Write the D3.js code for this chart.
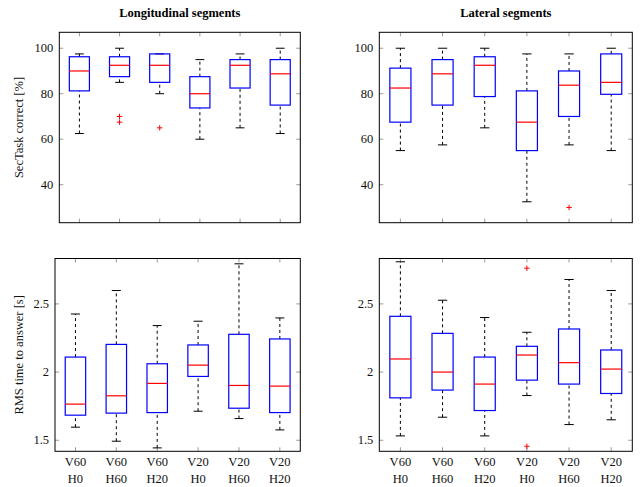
<!DOCTYPE html>
<meta charset="utf-8">
<script src="https://d3js.org/d3.v7.min.js"></script>
<style>
  body { margin: 0; background: #fff; }
</style>
<div id="chart"></div>
<script>
    // conditions on the x axis (two lines each)
    const categories = ["V60 H0", "V60 H60", "V60 H20", "V20 H0", "V20 H60", "V20 H20"];

    // box stats per condition: [low whisker, q1, median, q3, high whisker]
    const secLong = [
        [62.5, 81.25, 90, 96.25, 97.5],
        [85, 87.5, 92.5, 96.25, 100],
        [80, 85, 92.5, 97.5, 97.5],
        [60, 73.75, 80, 87.5, 95],
        [65, 82.5, 92.5, 95, 97.5],
        [62.5, 75, 88.75, 95, 100]
    ];
    const secLongOut = [[], [70, 67.5], [65], [], [], []];

    const secLat = [
        [55, 67.5, 82.5, 91.25, 100],
        [57.5, 75, 88.75, 95, 100],
        [65, 78.75, 92.5, 96.25, 100],
        [32.5, 55, 67.5, 81.25, 97.5],
        [57.5, 70, 83.75, 90, 97.5],
        [55, 79.75, 85, 97.5, 100]
    ];
    const secLatOut = [[], [], [], [], [30], []];

    const rmsLong = [
        [1.596, 1.684, 1.765, 2.110, 2.426],
        [1.493, 1.699, 1.826, 2.203, 2.598],
        [1.444, 1.703, 1.917, 2.061, 2.341],
        [1.713, 1.968, 2.051, 2.199, 2.373],
        [1.659, 1.735, 1.902, 2.277, 2.794],
        [1.576, 1.703, 1.897, 2.243, 2.397]
    ];
    const rmsLongOut = [[], [], [], [], [], []];

    const rmsLat = [
        [1.532, 1.811, 2.096, 2.409, 2.809],
        [1.669, 1.868, 2.0, 2.284, 2.527],
        [1.532, 1.718, 1.912, 2.110, 2.400],
        [1.828, 1.941, 2.125, 2.189, 2.292],
        [1.615, 1.912, 2.069, 2.316, 2.679],
        [1.650, 1.843, 2.022, 2.162, 2.598]
    ];
    const rmsLatOut = [[], [], [], [2.762, 1.456], [], []];

    const secTicks = [40, 60, 80, 100];
    const rmsTicks = [1.5, 2, 2.5];

    const W = 644, H = 487;
    const svg = d3.select("#chart").append("svg")
        .attr("width", W).attr("height", H)
        .attr("font-family", "'Liberation Serif', 'Times New Roman', serif");

    const panels = [
        {x0: 59.3, x1: 300.3, y0: 32.3, y1: 222.7, stats: secLong, out: secLongOut, dom: [23.3, 107], ticks: secTicks, fmt: d3.format("d"),
         title: "Longitudinal segments", ylabel: "SecTask correct [%]", xlabels: false},
        {x0: 379.3, x1: 632.3, y0: 32.3, y1: 222.7, stats: secLat, out: secLatOut, dom: [23.3, 107], ticks: secTicks, fmt: d3.format("d"),
         title: "Lateral segments", ylabel: null, xlabels: false},
        {x0: 55, x1: 300.3, y0: 258.5, y1: 451.3, stats: rmsLong, out: rmsLongOut, dom: [1.419, 2.833], ticks: rmsTicks, fmt: d => d === 2 ? "2" : d3.format(".1f")(d),
         title: null, ylabel: "RMS time to answer [s]", xlabels: true},
        {x0: 379.3, x1: 632.3, y0: 258.5, y1: 451.3, stats: rmsLat, out: rmsLatOut, dom: [1.419, 2.833], ticks: rmsTicks, fmt: d => d === 2 ? "2" : d3.format(".1f")(d),
         title: null, ylabel: null, xlabels: true}
    ];

    panels.forEach(function(p) {
        const g = svg.append("g");
        const x = d3.scaleLinear().domain([0.5, 6.5]).range([p.x0, p.x1]);
        const y = d3.scaleLinear().domain(p.dom).range([p.y1, p.y0]);
        const idx = d3.range(1, 7);
        const unit = x(2) - x(1);
        const bw = unit * 0.5, cw = unit * 0.22;

        // grey inner tick marks on all four sides
        const tk = g.append("g").attr("stroke", "#999").attr("stroke-width", 1);
        p.ticks.forEach(function(t) {
            tk.append("line").attr("x1", p.x0).attr("x2", p.x0 + 4).attr("y1", y(t)).attr("y2", y(t));
            tk.append("line").attr("x1", p.x1).attr("x2", p.x1 - 4).attr("y1", y(t)).attr("y2", y(t));
        });
        idx.forEach(function(i) {
            tk.append("line").attr("x1", x(i)).attr("x2", x(i)).attr("y1", p.y0).attr("y2", p.y0 + 4);
            tk.append("line").attr("x1", x(i)).attr("x2", x(i)).attr("y1", p.y1).attr("y2", p.y1 - 4);
        });

        // y tick labels
        g.selectAll(".yl").data(p.ticks).join("text")
            .attr("x", p.x0 - 6).attr("y", d => y(d) + 4)
            .attr("text-anchor", "end").attr("font-size", 12.5).attr("fill", "#111")
            .text(p.fmt);

        // boxes
        p.stats.forEach(function(s, k) {
            const cx = x(k + 1);
            const bg = g.append("g");
            // dashed whiskers
            bg.append("line").attr("x1", cx).attr("x2", cx).attr("y1", y(s[0])).attr("y2", y(s[1]))
                .attr("stroke", "#000").attr("stroke-dasharray", "3,3");
            bg.append("line").attr("x1", cx).attr("x2", cx).attr("y1", y(s[3])).attr("y2", y(s[4]))
                .attr("stroke", "#000").attr("stroke-dasharray", "3,3");
            // caps
            [s[0], s[4]].forEach(function(v) {
                bg.append("line").attr("x1", cx - cw / 2).attr("x2", cx + cw / 2).attr("y1", y(v)).attr("y2", y(v))
                    .attr("stroke", "#000").attr("stroke-width", 1);
            });
            bg.append("rect").attr("x", cx - bw / 2).attr("width", bw)
                .attr("y", y(s[3])).attr("height", y(s[1]) - y(s[3]))
                .attr("fill", "none").attr("stroke", "#0000ff").attr("stroke-width", 1.2);
            bg.append("line").attr("x1", cx - bw / 2).attr("x2", cx + bw / 2).attr("y1", y(s[2])).attr("y2", y(s[2]))
                .attr("stroke", "#ff0000").attr("stroke-width", 1.2);
            // outliers
            p.out[k].forEach(function(v) {
                bg.append("path").attr("d", `M${cx - 2.7},${y(v)}h5.4M${cx},${y(v) - 2.7}v5.4`)
                    .attr("stroke", "#ff0000").attr("stroke-width", 1);
            });
        });

        // frame
        g.append("rect").attr("x", p.x0).attr("y", p.y0)
            .attr("width", p.x1 - p.x0).attr("height", p.y1 - p.y0)
            .attr("fill", "none").attr("stroke", "#000").attr("stroke-width", 1);

        if (p.title) {
            g.append("text").attr("x", (p.x0 + p.x1) / 2).attr("y", 17)
                .attr("text-anchor", "middle").attr("font-size", 12.5).attr("font-weight", "bold")
                .attr("fill", "#000").text(p.title);
        }
        if (p.ylabel) {
            g.append("text").attr("transform", `translate(23,${(p.y0 + p.y1) / 2}) rotate(-90)`)
                .attr("text-anchor", "middle").attr("font-size", 12.5).attr("fill", "#111").text(p.ylabel);
        }
        if (p.xlabels) {
            categories.forEach(function(c, k) {
                const parts = c.split(" ");
                g.append("text").attr("x", x(k + 1)).attr("y", 466)
                    .attr("text-anchor", "middle").attr("font-size", 12.5).attr("fill", "#111").text(parts[0]);
                g.append("text").attr("x", x(k + 1)).attr("y", 483)
                    .attr("text-anchor", "middle").attr("font-size", 12.5).attr("fill", "#111").text(parts[1]);
            });
        }
    });
</script>
